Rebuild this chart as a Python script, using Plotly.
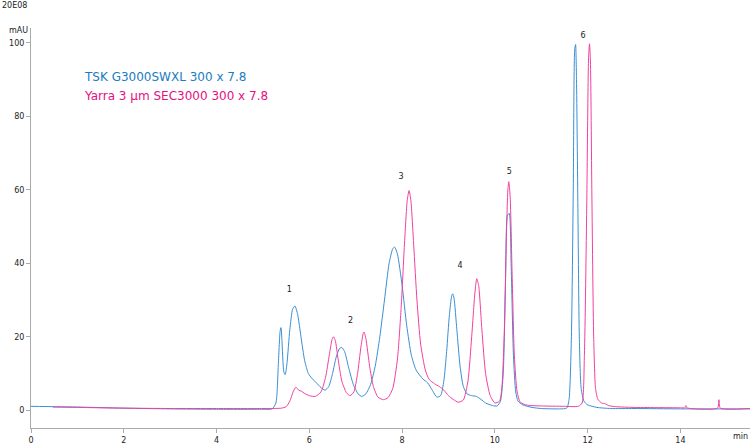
import plotly.graph_objects as go

# TSK G3000SWXL (blue) retention time (min) and absorbance (mAU)
tsk_time = [0.0, 0.5, 1.0, 2.0, 3.0, 4.0, 5.0, 5.2, 5.28, 5.33, 5.37, 5.39, 5.41, 5.45, 5.48,
            5.52, 5.58, 5.64, 5.69, 5.75, 5.82, 5.9, 5.98, 6.05, 6.15, 6.25, 6.34, 6.42, 6.5,
            6.58, 6.65, 6.7, 6.76, 6.85, 6.95, 7.05, 7.13, 7.22, 7.32, 7.42, 7.52, 7.62, 7.72,
            7.8, 7.84, 7.9, 8.0, 8.1, 8.2, 8.3, 8.45, 8.55, 8.65, 8.75, 8.83, 8.9, 8.96, 9.02,
            9.07, 9.09, 9.12, 9.18, 9.25, 9.32, 9.4, 9.5, 9.6, 9.7, 9.8, 9.95, 10.05, 10.12,
            10.18, 10.23, 10.27, 10.31, 10.35, 10.4, 10.45, 10.5, 10.6, 10.8, 11.0, 11.4, 11.55,
            11.6, 11.65, 11.69, 11.72, 11.74, 11.76, 11.79, 11.82, 11.86, 11.92, 12.0, 12.2,
            12.5, 13.0, 14.0, 15.5]
tsk_mau = [1.1, 1.0, 0.9, 0.6, 0.4, 0.3, 0.3, 0.4, 2.0, 12, 21.5, 22.5, 19, 10.5, 9.7,
           13, 22, 27.5, 28.4, 26, 20, 13.5, 10, 8.8, 7.5, 6.2, 5.5, 6.5, 10,
           14.5, 16.8, 17.1, 16, 11.5, 7, 4.5, 3.8, 4.5, 7, 12, 20, 30, 40,
           44, 44.4, 42.5, 34, 23, 15, 11, 8.5, 7.5, 5.5, 3.6, 4, 8, 16, 26,
           31.2, 31.7, 30.5, 22, 12, 6.5, 4.5, 4, 3.8, 3, 2, 1.3, 1.2, 2.5,
           10, 35, 53, 53.6, 40, 15, 5, 2.5, 1.5, 0.8, 0.5, 0.4, 0.6,
           3, 20, 60, 98, 99.5, 90, 55, 20, 6, 2.5, 1.5, 0.8,
           0.5, 0.5, 0.4, 0.4]

# Yarra 3 um SEC3000 (pink)
yarra_time = [0.47, 1.0, 2.0, 3.0, 4.0, 5.0, 5.4, 5.5, 5.58, 5.65, 5.71, 5.77, 5.83, 5.9, 6.0,
              6.13, 6.25, 6.35, 6.43, 6.49, 6.52, 6.56, 6.62, 6.7, 6.8, 6.88, 6.96, 7.04, 7.11,
              7.16, 7.18, 7.22, 7.3, 7.38, 7.48, 7.6, 7.7, 7.8, 7.9, 7.98, 8.05, 8.11, 8.15,
              8.19, 8.25, 8.32, 8.4, 8.5, 8.58, 8.7, 8.8, 8.9, 9.0, 9.1, 9.21, 9.32, 9.42, 9.5,
              9.57, 9.61, 9.65, 9.72, 9.8, 9.9, 10.0, 10.1, 10.15, 10.2, 10.25, 10.28, 10.3,
              10.33, 10.37, 10.42, 10.48, 10.55, 10.7, 11.0, 11.5, 11.8, 11.88, 11.93, 11.98,
              12.02, 12.04, 12.06, 12.09, 12.13, 12.17, 12.22, 12.3, 12.38, 12.45, 12.6, 13.0,
              14.0, 14.1, 14.12, 14.14, 14.8, 14.83, 14.86, 15.5]
yarra_mau = [0.9, 0.8, 0.6, 0.5, 0.5, 0.5, 0.6, 1.0, 2.5, 5, 6.3, 5.5, 5.2, 4.6, 4,
             3.8, 5, 9, 15, 19.3, 20.0, 19, 14, 8, 4.8, 4.0, 5, 10, 17,
             20.8, 21.3, 19.5, 12, 6.5, 3.6, 2.9, 3.5, 6, 14, 28, 45, 57, 59.8,
             57, 45, 30, 18, 11, 8.5, 7.2, 6.5, 5.5, 4, 3, 2.2, 2.8, 8, 20,
             32, 35.8, 34, 22, 10, 4, 2.0, 2.5, 6, 20, 48, 60, 62.2,
             58, 38, 15, 5, 2.2, 1.4, 1.2, 1.1, 1.1, 2, 15, 55,
             96, 99.7, 95, 60, 20, 6, 3, 2.0, 1.8, 1.3, 1.0, 0.8,
             0.7, 0.7, 1.3, 0.7, 0.6, 2.9, 0.6, 0.5]

peak_labels = ["1", "2", "3", "4", "5", "6"]
label_time = [5.57, 6.89, 7.98, 9.25, 10.31, 11.9]
label_mau = [32.7, 24.4, 63.6, 39.2, 64.7, 101.7]

blue_line = "#3a8fd2"
pink_line = "#f2409e"

W, H = 750, 445
ML, MR, MT, MB = 31, 0, 28, 14

fig = go.Figure()
fig.add_trace(go.Scatter(x=tsk_time, y=tsk_mau, mode="lines",
                         line=dict(color=blue_line, width=1, shape="spline", smoothing=0.6),
                         hoverinfo="skip", showlegend=False))
fig.add_trace(go.Scatter(x=yarra_time, y=yarra_mau, mode="lines",
                         line=dict(color=pink_line, width=1, shape="spline", smoothing=0.6),
                         hoverinfo="skip", showlegend=False))
fig.add_trace(go.Scatter(x=label_time, y=label_mau, mode="text", text=peak_labels,
                         textfont=dict(family="DejaVu Sans", size=8, color="#222"),
                         hoverinfo="skip", showlegend=False))

ann = [
    dict(x=0, y=5, text="20E08", size=8, color="#222", xanchor="left"),
    dict(x=30, y=31, text="mAU", size=8, color="#222", xanchor="right"),
    dict(x=750, y=440, text="min", size=8, color="#222", xanchor="right"),
    dict(x=82, y=77, text="TSK G3000SWXL 300 x 7.8", size=12, color="#1c7cc2", xanchor="left"),
    dict(x=82, y=97, text="Yarra 3 µm SEC3000 300 x 7.8", size=12, color="#e3117f", xanchor="left"),
]
pw = W - ML - MR
ph = H - MT - MB
for a in ann:
    fig.add_annotation(x=(a["x"] - ML) / pw, y=(H - MB - a["y"]) / ph, xref="paper", yref="paper",
                       text=a["text"], showarrow=False, xanchor=a["xanchor"], yanchor="middle",
                       font=dict(family="DejaVu Sans", size=a["size"], color=a["color"]))

fig.update_layout(
    width=W, height=H,
    margin=dict(l=ML, r=MR, t=MT, b=MB),
    paper_bgcolor="white", plot_bgcolor="white",
    xaxis=dict(range=[0, 15.5], tickvals=[0, 2, 4, 6, 8, 10, 12, 14], showgrid=False,
               zeroline=False, showline=True, linecolor="#aaaaaa", linewidth=1,
               ticks="outside", ticklen=4, tickcolor="#aaaaaa",
               tickfont=dict(family="DejaVu Sans", size=8, color="#222")),
    yaxis=dict(range=[-4.8, 104], tickvals=[0, 20, 40, 60, 80, 100], showgrid=False,
               zeroline=False, showline=True, linecolor="#aaaaaa", linewidth=1,
               ticks="outside", ticklen=4, tickcolor="#aaaaaa",
               tickfont=dict(family="DejaVu Sans", size=8, color="#222")),
)
fig.write_html("out.html")
